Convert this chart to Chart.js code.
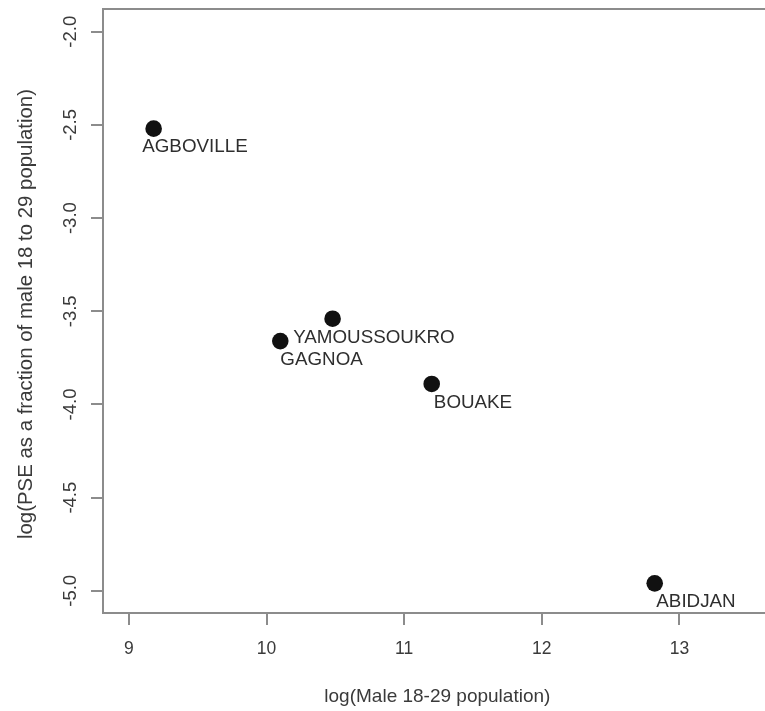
<!DOCTYPE html>
<html>
<head>
<meta charset="utf-8">
<title>PSE vs male population</title>
<script src="https://cdn.jsdelivr.net/npm/chart.js@4.4.1/dist/chart.umd.min.js"></script>
<style>
  html, body { margin: 0; padding: 0; background: #fff; overflow: hidden; }
  #chart { display: block; }
</style>
</head>
<body>
<canvas id="chart" width="780" height="711"></canvas>
<script>
// Data
const towns = ['AGBOVILLE', 'YAMOUSSOUKRO', 'GAGNOA', 'BOUAKE', 'ABIDJAN'];
const logMale = [9.18, 10.48, 10.10, 11.20, 12.82];
const logPse = [-2.52, -3.54, -3.66, -3.89, -4.96];

const xTicks = [9, 10, 11, 12, 13];
const yTicks = [-2.0, -2.5, -3.0, -3.5, -4.0, -4.5, -5.0];

const xTitle = 'log(Male 18-29 population)';
const yTitle = 'log(PSE as a fraction of male 18 to 29 population)';

// labels sit like R's text(x + 0.3, y - 0.1, labels)
const LABEL_DX = 0.3;
const LABEL_DY = -0.1;

// Styles
const AXIS_GREY = '#8c8c8c';
const TEXT_GREY = '#3a3a3a';
const FONT = '"Liberation Sans", Arial, sans-serif';

// Draws the R-style pieces Chart.js doesn't: box top, rotated y labels, titles, point labels
const rPlotExtras = {
    id: 'rPlotExtras',
    afterDraw(chart) {
        const { ctx, chartArea: a, scales: { x, y } } = chart;
        ctx.save();

        // rest of the box
        ctx.strokeStyle = AXIS_GREY;
        ctx.lineWidth = 2;
        ctx.beginPath();
        ctx.moveTo(a.left, a.top);
        ctx.lineTo(a.right, a.top);
        ctx.lineTo(a.right, a.bottom);
        ctx.stroke();

        ctx.fillStyle = TEXT_GREY;
        ctx.textAlign = 'center';
        ctx.textBaseline = 'alphabetic';

        // y tick labels, parallel to the axis
        ctx.font = `18.5px ${FONT}`;
        y.ticks.forEach(t => {
            ctx.save();
            ctx.translate(a.left - 27, y.getPixelForValue(t.value));
            ctx.rotate(-Math.PI / 2);
            ctx.fillText(t.value.toFixed(1), 0, 0);
            ctx.restore();
        });

        // axis titles
        ctx.font = `19px ${FONT}`;
        ctx.fillText(xTitle, (a.left + a.right) / 2, 702);

        ctx.save();
        ctx.font = `20.4px ${FONT}`;
        ctx.translate(32, (a.top + a.bottom) / 2 + 3);
        ctx.rotate(-Math.PI / 2);
        ctx.fillText(yTitle, 0, 0);
        ctx.restore();

        // point labels
        ctx.fillStyle = '#2e2e2e';
        ctx.font = `18.8px ${FONT}`;
        ctx.textBaseline = 'middle';
        towns.forEach((name, i) => {
            const px = x.getPixelForValue(logMale[i] + LABEL_DX);
            const py = y.getPixelForValue(logPse[i] + LABEL_DY);
            ctx.fillText(name, px, py);
        });

        ctx.restore();
    }
};

const points = logMale.map((v, i) => ({ x: v, y: logPse[i] }));

const ctx = document.getElementById('chart').getContext('2d');
new Chart(ctx, {
    type: 'scatter',
    data: {
        datasets: [{
            data: points,
            backgroundColor: '#111111',
            borderWidth: 0,
            pointRadius: 8.3,
            pointHoverRadius: 8.3
        }]
    },
    options: {
        responsive: false,
        animation: false,
        events: [],
        layout: { padding: { top: 9, right: 5, left: 0, bottom: 0 } },
        plugins: {
            legend: { display: false },
            tooltip: { enabled: false }
        },
        scales: {
            x: {
                type: 'linear',
                min: 8.812,
                max: 13.67,
                afterBuildTicks: s => { s.ticks = xTicks.map(v => ({ value: v })); },
                afterFit: s => { s.height = 98; },
                grid: { drawOnChartArea: false, drawTicks: true, tickLength: 12, color: AXIS_GREY, lineWidth: 2 },
                border: { display: true, color: AXIS_GREY, width: 2 },
                ticks: {
                    color: TEXT_GREY,
                    font: { family: FONT, size: 17.5 },
                    padding: 14,
                    maxRotation: 0,
                    autoSkip: false
                }
            },
            y: {
                type: 'linear',
                min: -5.119,
                max: -1.878,
                afterBuildTicks: s => { s.ticks = yTicks.map(v => ({ value: v })); },
                afterFit: s => { s.width = 103; },
                grid: { drawOnChartArea: false, drawTicks: true, tickLength: 12, color: AXIS_GREY, lineWidth: 2 },
                border: { display: true, color: AXIS_GREY, width: 2 },
                ticks: { display: false }
            }
        }
    },
    plugins: [rPlotExtras]
});
</script>
</body>
</html>
